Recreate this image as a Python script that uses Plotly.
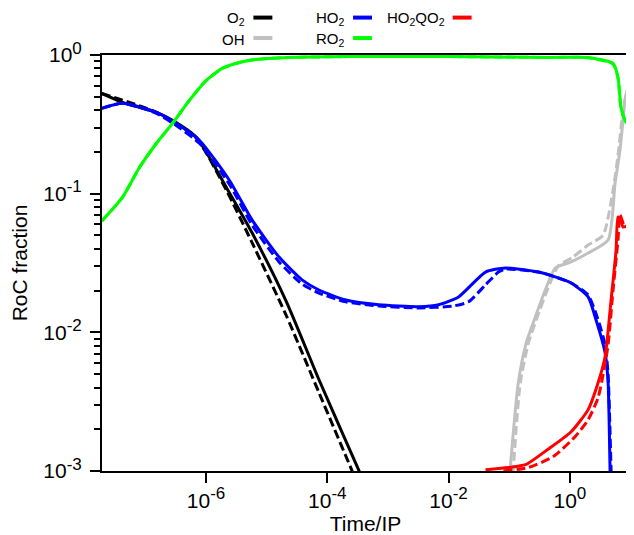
import plotly.graph_objects as go

# ---------------- data ----------------
o2_t = [1.90e-8, 4.21e-8, 1.52e-7, 2.79e-7, 6.93e-7, 2.16e-6, 5.77e-6, 2.09e-5, 7.29e-5, 3.31e-4, 3.72e-4]
o2_y = [0.528, 0.455, 0.386, 0.338, 0.255, 0.111, 0.0520, 0.0168, 0.00455, 0.00101, 0.000898]
o2d_t = [1.90e-8, 1.52e-7, 6.93e-7, 2.16e-6, 5.77e-6, 2.09e-5, 7.29e-5, 2.54e-4, 2.84e-4]
o2d_y = [0.528, 0.386, 0.251, 0.106, 0.0441, 0.0133, 0.00367, 0.00101, 0.000898]

ho2_t = [1.90e-8, 4.21e-8, 1.52e-7, 3.01e-7, 7.76e-7, 2.42e-6, 5.77e-6, 1.60e-5, 3.83e-5, 7.29e-5,
         2.02e-4, 7.06e-4, 3.21e-3, 6.84e-3, 1.46e-2, 4.06e-2, 8.65e-2, 0.301, 0.574, 1.05,
         2.00, 2.61, 3.81, 4.27, 4.60, 4.65]
ho2_y = [0.412, 0.448, 0.386, 0.327, 0.243, 0.125, 0.0645, 0.0349, 0.0239, 0.0202,
         0.0171, 0.0158, 0.0153, 0.0158, 0.0180, 0.0272, 0.0291, 0.0272, 0.0251, 0.0227,
         0.0180, 0.0129, 0.00713, 0.00433, 0.00101, 0.0009]
ho2d_t = [1.90e-8, 4.21e-8, 1.52e-7, 3.01e-7, 7.76e-7, 2.42e-6, 5.77e-6, 1.60e-5, 3.83e-5, 7.29e-5,
          2.02e-4, 7.06e-4, 3.21e-3, 1.21e-2, 2.13e-2, 4.06e-2, 6.64e-2, 8.65e-2, 0.301, 0.574,
          1.05, 2.00, 2.92, 3.81, 4.27, 4.78, 4.83]
ho2d_y = [0.412, 0.448, 0.380, 0.316, 0.231, 0.117, 0.0593, 0.0322, 0.0223, 0.0192,
          0.0166, 0.0155, 0.0150, 0.0155, 0.0166, 0.0220, 0.0272, 0.0286, 0.0272, 0.0251,
          0.0227, 0.0186, 0.0123, 0.00813, 0.00494, 0.00101, 0.0009]

ro2_t = [1.90e-8, 4.21e-8, 8.00e-8, 1.52e-7, 2.79e-7, 5.31e-7, 1.01e-6, 1.85e-6, 3.53e-6, 6.71e-6,
         2.34e-5, 2.27e-4, 1.00e-2, 0.441, 2.00, 5.15, 6.22, 6.98, 8.43, 9.43]
ro2_y = [0.0634, 0.0944, 0.155, 0.231, 0.321, 0.471, 0.656, 0.800, 0.883, 0.929,
         0.959, 0.975, 0.975, 0.959, 0.959, 0.869, 0.689, 0.419, 0.327, 0.320]
ro2d_t = ro2_t
ro2d_y = [0.0634, 0.0944, 0.155, 0.231, 0.321, 0.471, 0.656, 0.800, 0.883, 0.929,
          0.959, 0.975, 0.975, 0.959, 0.955, 0.860, 0.680, 0.410, 0.330, 0.325]

oh_t = [0.102, 0.141, 0.191, 0.269, 0.393, 0.574, 1.05, 2.00, 4.27, 5.56, 6.71, 8.11, 8.75]
oh_y = [0.00095, 0.00433, 0.00840, 0.0129, 0.0202, 0.0291, 0.0322, 0.0373, 0.0463, 0.119, 0.206, 0.471, 0.556]
ohd_t = [0.115, 0.152, 0.207, 0.290, 0.424, 0.643, 1.13, 2.00, 3.53, 5.15, 6.22, 7.53, 8.75]
ohd_y = [0.00095, 0.00433, 0.00840, 0.0129, 0.0202, 0.0301, 0.0349, 0.0426, 0.0502, 0.106, 0.189, 0.399, 0.556]

hq_t = [4.06e-2, 0.0968, 0.185, 0.441, 1.05, 2.00, 2.92, 3.81, 4.78, 5.78, 6.22, 6.71, 7.53, 9.10]
hq_y = [0.00102, 0.00106, 0.00111, 0.00144, 0.00192, 0.00277, 0.00433, 0.00667, 0.0171, 0.0392,
        0.0678, 0.0667, 0.0574, 0.0593]
hqd_t = [0.0802, 0.207, 0.532, 1.22, 2.00, 2.92, 3.53, 4.27, 5.15, 6.22, 6.71, 7.82, 9.10]
hqd_y = [0.00100, 0.00106, 0.00127, 0.00177, 0.00234, 0.00338, 0.00494, 0.00813, 0.0202, 0.0463,
         0.0700, 0.0593, 0.0565]

series = [
    ("O<sub>2</sub>", "#000000", o2_t, o2_y, o2d_t, o2d_y),
    ("OH", "#c0c0c0", oh_t, oh_y, ohd_t, ohd_y),
    ("HO<sub>2</sub>", "#0000ff", ho2_t, ho2_y, ho2d_t, ho2d_y),
    ("RO<sub>2</sub>", "#00ff00", ro2_t, ro2_y, ro2d_t, ro2d_y),
    ("HO<sub>2</sub>QO<sub>2</sub>", "#ff0000", hq_t, hq_y, hqd_t, hqd_y),
]

x_tickvals = [1e-6, 1e-4, 1e-2, 1]
x_exponents = ["-6", "-4", "-2", "0"]
y_tickvals = [1e-3, 1e-2, 1e-1, 1]
y_exponents = ["-3", "-2", "-1", "0"]
y_minor = [m * 10.0 ** e for e in (-3, -2, -1) for m in range(2, 10)]


def power_label(e):
    return "10<sup><span style='font-size:17px'>%s</span></sup>" % e


x_ticktext = [power_label(e) for e in x_exponents]
y_ticktext = [power_label(e) for e in y_exponents]

FONT = "Liberation Sans, Arial, Helvetica, sans-serif"

fig = go.Figure()
for name, col, t, y, td, yd in series:
    fig.add_trace(go.Scatter(x=td, y=yd, mode="lines", showlegend=False,
                             line=dict(color=col, width=3, dash="9px,4px", shape="spline", smoothing=0.6)))
    fig.add_trace(go.Scatter(x=t, y=y, mode="lines", name=name, showlegend=False,
                             line=dict(color=col, width=3, shape="spline", smoothing=0.6)))

# ---------------- manual legend (text then line sample) ----------------
# page offset of 8px: figure pixel = screenshot pixel - 8
OFF = 8
L, R, T, B = 102 - OFF, 631 - OFF, 54.5 - OFF, 471.5 - OFF
W, H = 626, 527


def px(x):
    return (x - OFF - L) / (R - L)


def py(y):
    return (B - (y - OFF)) / (B - T)


legend_items = [  # (label, color, text right edge px, row y px) in screenshot pixels
    ("O<sub>2</sub>", "#000000", 248, 18),
    ("OH", "#c0c0c0", 248, 38.5),
    ("HO<sub>2</sub>", "#0000ff", 348, 18),
    ("RO<sub>2</sub>", "#00ff00", 348, 38.5),
    ("HO<sub>2</sub>QO<sub>2</sub>", "#ff0000", 448, 18),
]
for lab, col, xr, yy in legend_items:
    fig.add_annotation(x=px(xr), y=py(yy), xref="paper", yref="paper", text=lab,
                       showarrow=False, xanchor="right", yanchor="middle",
                       font=dict(family=FONT, size=15, color="#000000"))
    fig.add_shape(type="line", xref="paper", yref="paper",
                  x0=px(xr + 6), x1=px(xr + 25), y0=py(yy - 1), y1=py(yy - 1),
                  line=dict(color=col, width=4))

fig.update_layout(
    width=W, height=H,
    margin=dict(l=L, r=W - R, t=T, b=H - B),
    plot_bgcolor="white", paper_bgcolor="white",
    font=dict(family=FONT, size=21, color="#000000"),
    showlegend=False,
)
fig.update_xaxes(type="log", range=[-7.716, 0.975], tickmode="array",
                 tickvals=x_tickvals, ticktext=x_ticktext,
                 ticks="outside", ticklen=10, tickwidth=2, tickcolor="black",
                 showline=True, linewidth=2, linecolor="black", mirror=True,
                 showgrid=False, zeroline=False,
                 title=dict(text="Time/IP", font=dict(size=21), standoff=0))
fig.update_yaxes(type="log", range=[-3, 0], tickmode="array",
                 tickvals=y_tickvals, ticktext=y_ticktext, ticklabelstandoff=4,
                 ticks="outside", ticklen=10, tickwidth=2, tickcolor="black",
                 minor=dict(tickmode="array", tickvals=y_minor, ticks="outside",
                            ticklen=6, tickwidth=2, tickcolor="black", showgrid=False),
                 showline=True, linewidth=2, linecolor="black", mirror=True,
                 showgrid=False, zeroline=False,
                 title=dict(text="RoC fraction", font=dict(size=21), standoff=10))

fig.write_html("out.html")
